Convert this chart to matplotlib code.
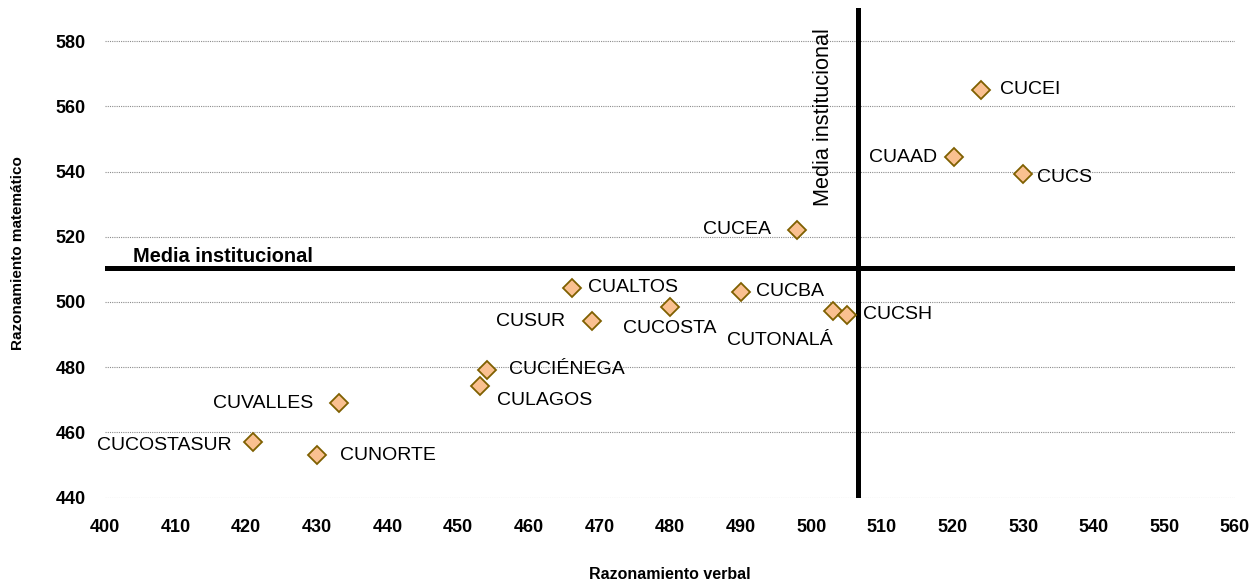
import matplotlib
matplotlib.use("Agg")
import matplotlib.pyplot as plt

# --------------------------------------------------
# chart data
# --------------------------------------------------
centros = ["CUCEI", "CUAAD", "CUCS", "CUCEA", "CUALTOS", "CUCBA", "CUCOSTA",
           "CUSUR", "CUTONALÁ", "CUCSH", "CUCIÉNEGA", "CULAGOS", "CUVALLES",
           "CUCOSTASUR", "CUNORTE"]
verbal = [524.1, 520.2, 530.0, 498.0, 466.1, 490.0, 480.0,
          469.0, 503.1, 505.1, 454.1, 453.1, 433.1, 421.0, 430.0]
matematico = [565.1, 544.3, 539.1, 522.2, 504.3, 503.1, 498.4,
              494.1, 497.2, 496.1, 479.2, 474.2, 468.9, 457.1, 453.0]
media_verbal = 506.6
media_matematico = 510.5
x_ticks = list(range(400, 561, 10))
y_ticks = list(range(440, 581, 20))

# label placement: (dx, dy) in points, horizontal alignment
label_pos = {
    "CUCEI": (13, 0, "left"),
    "CUAAD": (-12, 0, "right"),
    "CUCS": (9.7, -2, "left"),
    "CUCEA": (-18.7, 0, "right"),
    "CUALTOS": (11.7, 0, "left"),
    "CUCBA": (11, 0, "left"),
    "CUCOSTA": (0, -15, "center"),
    "CUSUR": (-19.6, 0, "right"),
    "CUTONALÁ": (0, -21, "right"),
    "CUCSH": (11.3, 0, "left"),
    "CUCIÉNEGA": (16, 0, "left"),
    "CULAGOS": (12, -10, "left"),
    "CUVALLES": (-18.7, 0, "right"),
    "CUCOSTASUR": (-15.5, -2.7, "right"),
    "CUNORTE": (16.4, 0, "left"),
}

plt.rcParams["font.family"] = ["Liberation Sans", "DejaVu Sans"]

fig = plt.figure(figsize=(12.58, 5.84), dpi=100)
ax = fig.add_axes([0.0835, 0.1478, 0.8982, 0.8378])

# grid and frame
ax.set_xlim(400, 560)
ax.set_ylim(440, 590)
ax.set_xticks(x_ticks)
ax.set_yticks(y_ticks)
ax.grid(axis="y", linestyle=(0, (1, 1)), color="#8c8c8c", linewidth=0.8)
ax.set_axisbelow(True)
for side in ax.spines.values():
    side.set_visible(False)
ax.tick_params(length=0, labelsize=13)
ax.tick_params(axis="x", pad=15)
ax.tick_params(axis="y", pad=14)
for lab in ax.get_xticklabels() + ax.get_yticklabels():
    lab.set_fontweight("bold")

# institutional means
ax.axhline(media_matematico, color="black", linewidth=3.6, zorder=2)
ax.axvline(media_verbal, color="black", linewidth=3.6, zorder=2)
ax.text(404.0, 512.3, "Media institucional", fontsize=14.4,
        fontweight="bold", va="baseline", ha="left")
ax.text(media_verbal - 3.4, 584, "Media institucional", fontsize=15.6,
        rotation=90, va="top", ha="right")

# scatter points
ax.plot(verbal, matematico, linestyle="none", marker="D", markersize=9.5,
        markerfacecolor="#FAC090", markeredgecolor="#7F6000",
        markeredgewidth=1.3, zorder=3)

for name, xv, yv in zip(centros, verbal, matematico):
    dx, dy, ha = label_pos[name]
    ax.annotate(name, (xv, yv), xytext=(dx, dy), textcoords="offset points",
                ha=ha, va="center", fontsize=14, zorder=4)

ax.set_xlabel("Razonamiento verbal", fontsize=11.5, fontweight="bold", labelpad=23)
ax.set_ylabel("Razonamiento matemático", fontsize=11, fontweight="bold", labelpad=22)

fig.savefig("out.png", dpi=100)
